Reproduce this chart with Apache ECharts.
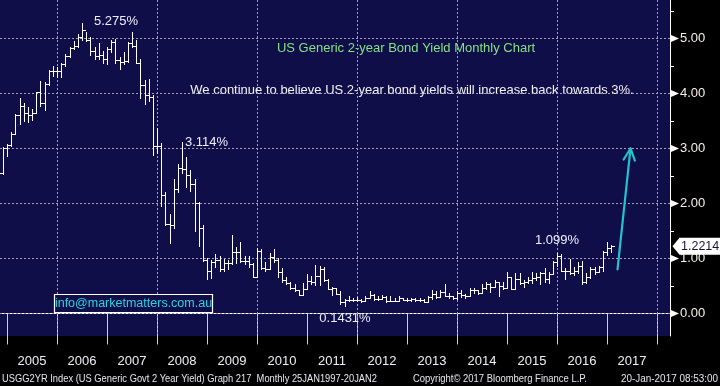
<!DOCTYPE html>
<html><head><meta charset="utf-8">
<script src="https://cdn.jsdelivr.net/npm/echarts@6/dist/echarts.min.js"></script>
<style>html,body{margin:0;padding:0;background:#000;}#c{width:720px;height:386px;}</style>
</head><body><div id="c"></div>
<script>
// ---- DATA ----
const firstMonth = '2004-11';
const open = [2.55,3.00,
3.07,3.27,3.60,3.78,3.65,3.60,3.64,4.02,3.83,4.17,4.40,4.41,
4.40,4.54,4.69,4.82,4.87,5.03,5.16,4.97,4.78,4.69,4.70,4.62,
4.81,4.93,4.61,4.58,4.59,4.91,4.87,4.56,4.15,3.97,3.94,3.04,
3.05,2.16,1.63,1.60,2.27,2.65,2.62,2.51,2.36,2.00,1.56,0.97,
0.77,0.94,0.97,0.80,0.91,0.92,1.11,1.11,0.96,0.95,0.90,0.67,
1.14,0.82,0.81,1.02,0.97,0.76,0.61,0.55,0.47,0.42,0.34,0.45,
0.59,0.57,0.69,0.80,0.61,0.45,0.46,0.36,0.20,0.25,0.25,0.25,
0.24,0.22,0.29,0.33,0.27,0.27,0.30,0.22,0.23,0.23,0.28,0.25,
0.25,0.26,0.24,0.24,0.21,0.30,0.36,0.30,0.39,0.32,0.31,0.28,
0.38,0.33,0.32,0.42,0.42,0.37,0.46,0.53,0.49,0.57,0.50,0.47,
0.66,0.45,0.62,0.56,0.57,0.61,0.64,0.67,0.74,0.63,0.72,0.94,
1.05,0.78,0.78,0.73,0.78,0.87,0.58,0.66,0.81,0.76,0.84,1.11,
1.19];
const high = [3.03,3.09,
3.30,3.62,3.92,3.82,3.76,3.72,4.03,4.22,4.20,4.42,4.50,4.48,
4.56,4.72,4.84,4.95,5.08,5.275,5.12,5.02,4.85,4.92,4.77,4.84,
4.98,4.99,4.67,4.75,4.93,5.12,4.97,4.62,4.25,4.26,3.97,3.37,
3.10,2.20,1.80,2.45,2.72,3.114,2.85,2.60,2.45,2.02,1.60,1.00,
0.97,1.08,1.05,0.99,0.98,1.43,1.20,1.30,1.04,1.05,0.92,1.19,
1.17,0.93,1.10,1.18,1.01,0.83,0.66,0.58,0.53,0.43,0.55,0.72,
0.68,0.88,0.86,0.84,0.62,0.48,0.47,0.41,0.27,0.32,0.29,0.30,
0.27,0.31,0.41,0.36,0.31,0.33,0.31,0.31,0.28,0.31,0.29,0.29,
0.28,0.28,0.29,0.26,0.31,0.43,0.40,0.43,0.53,0.38,0.31,0.40,
0.42,0.36,0.47,0.46,0.43,0.54,0.58,0.56,0.60,0.57,0.57,0.75,
0.67,0.73,0.74,0.61,0.66,0.75,0.73,0.76,0.82,0.76,0.95,1.099,
1.09,0.82,0.99,0.84,0.93,0.95,0.73,0.84,0.84,0.87,1.14,1.30,
1.24];
const low = [2.53,2.86,
3.05,3.27,3.45,3.50,3.48,3.52,3.64,3.78,3.70,4.15,4.31,4.30,
4.30,4.50,4.66,4.80,4.85,4.98,4.96,4.70,4.62,4.62,4.56,4.53,
4.75,4.55,4.45,4.53,4.57,4.84,4.55,3.92,3.80,3.87,2.88,2.91,
1.95,1.60,1.28,1.55,2.20,2.55,2.30,2.22,1.50,1.23,0.96,0.63,
0.65,0.85,0.77,0.78,0.80,0.90,0.92,0.94,0.90,0.84,0.66,0.67,
0.80,0.77,0.80,0.93,0.67,0.58,0.53,0.45,0.40,0.33,0.33,0.44,
0.54,0.52,0.52,0.59,0.45,0.33,0.35,0.17,0.1431,0.22,0.22,0.22,
0.20,0.22,0.28,0.25,0.25,0.26,0.21,0.22,0.22,0.22,0.24,0.23,
0.23,0.23,0.23,0.20,0.20,0.26,0.29,0.30,0.32,0.28,0.27,0.27,
0.30,0.29,0.31,0.38,0.36,0.37,0.44,0.39,0.49,0.31,0.45,0.47,
0.44,0.45,0.54,0.49,0.55,0.56,0.61,0.53,0.58,0.55,0.71,0.87,
0.78,0.63,0.71,0.70,0.73,0.53,0.55,0.64,0.72,0.75,0.77,1.06,
1.12];
const close = [3.00,3.07,
3.27,3.60,3.78,3.65,3.60,3.64,4.02,3.83,4.17,4.40,4.41,4.40,
4.54,4.69,4.82,4.87,5.03,5.16,4.97,4.78,4.69,4.70,4.62,4.81,
4.93,4.61,4.58,4.59,4.91,4.87,4.56,4.15,3.97,3.94,3.04,3.05,
2.16,1.63,1.60,2.27,2.65,2.62,2.51,2.36,2.00,1.56,0.97,0.77,
0.94,0.97,0.80,0.91,0.92,1.11,1.11,0.96,0.95,0.90,0.67,1.14,
0.82,0.81,1.02,0.97,0.76,0.61,0.55,0.47,0.42,0.34,0.45,0.59,
0.57,0.69,0.80,0.61,0.45,0.46,0.36,0.20,0.25,0.25,0.25,0.24,
0.22,0.29,0.33,0.27,0.27,0.30,0.22,0.23,0.23,0.28,0.25,0.25,
0.26,0.24,0.24,0.21,0.30,0.36,0.30,0.39,0.32,0.31,0.28,0.38,
0.33,0.32,0.42,0.42,0.37,0.46,0.53,0.49,0.57,0.50,0.47,0.66,
0.45,0.62,0.56,0.57,0.61,0.64,0.67,0.74,0.63,0.72,0.94,1.05,
0.78,0.78,0.73,0.78,0.87,0.58,0.66,0.81,0.76,0.84,1.11,1.19,
1.2214];
const yearLabels = ['2005','2006','2007','2008','2009','2010','2011','2012','2013','2014','2015','2016','2017'];
const yearTicks = [2005,2006,2007,2008,2009,2010,2011,2012,2013,2014,2015,2016,2017,2018];
const gridYears = [2006,2008,2010,2012,2014,2016,2018];
const yLabels = [0,1,2,3,4,5];
const yMinor = [0.5,1.5,2.5,3.5,4.5,5.5];
const annoMonth = ['2006-06','2008-06','2011-09','2015-12'];
const annoValue = [5.275,3.114,0.1431,1.099];
const annoText = ['5.275%','3.114%','0.1431%','1.099%'];
const arrowStart = [2017.21, 0.80];
const arrowEnd = [2017.47, 3.00];
const lastValue = 1.2214;

// ---- helpers ----
function monthLabel(i){
  const [y0,m0] = firstMonth.split('-').map(Number);
  const k = (m0-1)+i;
  return (y0+Math.floor(k/12))+'-'+String(k%12+1).padStart(2,'0');
}
function toT(m){ const [y,mm]=m.split('-').map(Number); return y+mm/12; }
const months = open.map((_,i)=>monthLabel(i));
const ohlc = months.map((m,i)=>[toT(m),open[i],high[i],low[i],close[i]]);

const FONT = '"Liberation Sans", Arial, sans-serif';
const annoPlace = [ {align:'left',dx:12,dy:-2}, {align:'left',dx:3,dy:0}, {align:'center',dx:0,dy:12}, {align:'center',dx:0,dy:-13} ];

const mctx = document.createElement('canvas').getContext('2d');
function fit(text, font, w){ mctx.font = font; return w / mctx.measureText(text).width; }

const chart = echarts.init(document.getElementById('c'), null, {width:720, height:386});
const gridStyle = {stroke:'#a2a2b0', lineWidth:1, lineDash:[2,2]};
const footFont = '10.5px ' + FONT;
const foot1 = 'USGG2YR Index (US Generic Govt 2 Year Yield) Graph 217  Monthly 25JAN1997-20JAN2';
const foot2 = 'Copyright\u00A9 2017 Bloomberg Finance L.P.';
const foot3 = '20-Jan-2017 08:53:00';

function txt(text, x, y, font, fill, align, sx){
  return {type:'text', x:x, y:y, scaleX:sx||1, style:{text:text, font:font, fill:fill, align:align||'left', verticalAlign:'middle', textAlign:align||'left', textVerticalAlign:'middle'}};
}

const option = {
  backgroundColor:'#000',
  animation:false,
  grid:{left:0,right:50,top:0,bottom:50,show:true,backgroundColor:'#100e48',borderWidth:0},
  xAxis:{type:'value',min:2004.86,max:2018.26,
    axisLine:{show:true,lineStyle:{color:'#ffffff',width:1}},
    axisTick:{show:true,customValues:yearTicks,length:31,lineStyle:{color:'#d0d0d0',width:1}},
    axisLabel:{customValues:yearLabels.map(s=>Number(s)+0.5),formatter:v=>String(Math.floor(v)),color:'#eeeef4',fontSize:13,fontFamily:'Liberation Sans',margin:19},
    splitLine:{show:false}},
  yAxis:{type:'value',position:'right',min:-0.41,max:5.70,
    axisLine:{show:true,lineStyle:{color:'#ffffff',width:1}},
    axisTick:{show:true,customValues:yMinor,length:4,lineStyle:{color:'#ffffff'}},
    axisLabel:{customValues:yLabels,formatter:v=>v.toFixed(2),color:'#f6efe4',fontSize:13,fontFamily:'Liberation Sans',margin:10},
    splitLine:{show:false}},
  series:[
    {type:'custom',silent:true,z:1,data:gridYears.map(v=>[v,0]),renderItem(p,api){
      const cs=p.coordSys; const x=Math.round(api.coord([api.value(0),0])[0])+0.5;
      return {type:'line',shape:{x1:x,y1:cs.y,x2:x,y2:cs.y+cs.height},style:gridStyle};}},
    {type:'custom',silent:true,z:1,data:yLabels.map(v=>[2010,v]),renderItem(p,api){
      const cs=p.coordSys; const y=Math.round(api.coord([2010,api.value(1)])[1])+0.5;
      return {type:'line',shape:{x1:cs.x,y1:y,x2:cs.x+cs.width,y2:y},style:gridStyle};}},
    {type:'custom',name:'USGG2YR',z:3,clip:true,data:ohlc,renderItem(p,api){
      const t=api.value(0);
      const o=api.coord([t,api.value(1)]), h=api.coord([t,api.value(2)]), l=api.coord([t,api.value(3)]), c=api.coord([t,api.value(4)]);
      const xi=Math.round(o[0]); const x=xi+0.5;
      const oy=Math.round(o[1])+0.5, cy=Math.round(c[1])+0.5;
      const st={stroke:'#ffffff',lineWidth:1};
      return {type:'group',children:[
        {type:'line',shape:{x1:x,y1:Math.round(h[1]),x2:x,y2:Math.round(l[1])+1},style:st},
        {type:'line',shape:{x1:xi-3,y1:oy,x2:xi,y2:oy},style:st},
        {type:'line',shape:{x1:xi+1,y1:cy,x2:xi+4,y2:cy},style:st}
      ]};}},
    {type:'custom',silent:true,z:4,clip:false,data:annoMonth.map((m,i)=>[toT(m),annoValue[i],i]),renderItem(p,api){
      const i=api.value(2); const pt=api.coord([api.value(0),api.value(1)]); const pl=annoPlace[i];
      return {type:'text',x:Math.round(pt[0]+pl.dx),y:Math.round(pt[1]+pl.dy),style:{text:annoText[i],font:'13px '+FONT,fill:'#eceeff',align:pl.align,textAlign:pl.align,verticalAlign:'middle',textVerticalAlign:'middle'}};}},
    {type:'custom',silent:true,z:4,clip:false,data:[[arrowStart[0],arrowStart[1],arrowEnd[0],arrowEnd[1]]],renderItem(p,api){
      const a=api.coord([api.value(0),api.value(1)]), b=api.coord([api.value(2),api.value(3)]);
      const ang=Math.atan2(a[1]-b[1],a[0]-b[0]); const L=13, s=0.45;
      const p1=[b[0]+L*Math.cos(ang+s),b[1]+L*Math.sin(ang+s)], p2=[b[0]+L*Math.cos(ang-s),b[1]+L*Math.sin(ang-s)];
      const st={stroke:'#22c3cc',lineWidth:2.2,lineCap:'round',lineJoin:'round',fill:null};
      return {type:'group',children:[
        {type:'line',shape:{x1:a[0],y1:a[1],x2:b[0],y2:b[1]},style:st},
        {type:'polyline',shape:{points:[p1,b,p2]},style:st}
      ]};}},
    {type:'custom',silent:true,z:5,clip:false,data:yLabels.map(v=>[2010,v]),renderItem(p,api){
      const cs=p.coordSys; const y=api.coord([2010,api.value(1)])[1]; const x0=cs.x+cs.width+1;
      return {type:'polygon',shape:{points:[[x0,y-3.5],[x0+8,y],[x0,y+3.5]]},style:{fill:'#ffffff'}};}},
    {type:'custom',silent:true,z:6,clip:false,data:[[2017,lastValue]],renderItem(p,api){
      const cs=p.coordSys; const y=api.coord([api.value(0),api.value(1)])[1]; const x0=cs.x+cs.width+2.5;
      return {type:'group',children:[
        {type:'polygon',shape:{points:[[x0,y],[x0+7,y-8.5],[720,y-8.5],[720,y+8.5],[x0+7,y+8.5]]},style:{fill:'#ffffff'}},
        {type:'text',x:x0+8.5,y:y+0.5,style:{text:lastValue.toFixed(4),font:'12.5px '+FONT,fill:'#14123e',align:'left',textAlign:'left',verticalAlign:'middle',textVerticalAlign:'middle'}}
      ]};}}
  ],
  graphic:[
    txt('US Generic 2-year Bond Yield Monthly Chart',406,48,'13px '+FONT,'#84e284','center'),
    txt('We continue to believe US 2-year bond yields will increase back towards 3%.',412,90,'13px '+FONT,'#f2f2f8','center'),
    {type:'rect',shape:{x:54.5,y:294.5,width:158,height:18},style:{fill:'#100e48',stroke:'#ffffff',lineWidth:1.2},z:10},
    Object.assign(txt('info@marketmatters.com.au',133.5,303.5,'12.5px '+FONT,'#26d4e4','center'),{z:11}),
    txt(foot1,2,379,footFont,'#e6e6ee','left',fit(foot1,footFont,375)),
    txt(foot2,413,379,footFont,'#e6e6ee','left',fit(foot2,footFont,174)),
    txt(foot3,621,379,footFont,'#e6e6ee','left',fit(foot3,footFont,97))
  ]
};
chart.setOption(option);
</script></body></html>
